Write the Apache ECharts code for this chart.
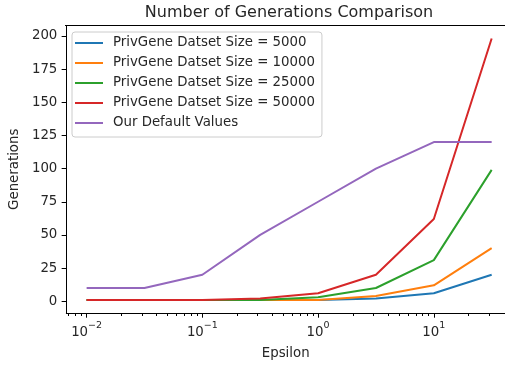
<!DOCTYPE html>
<html>
<head>
<meta charset="utf-8">
<script src="https://cdn.jsdelivr.net/npm/echarts@6/dist/echarts.min.js"></script>
<style>
html,body{margin:0;padding:0;background:#fff;}
#chart{width:505px;height:365px;}
</style>
</head>
<body>
<div id="chart"></div>
<script>
const epsilon = [0.01, 0.0316, 0.1, 0.316, 1, 3.16, 10, 31.6];
const size5000 = [1, 1, 1, 1, 1, 2, 6, 20];
const size10000 = [1, 1, 1, 1, 1, 4, 12, 40];
const size25000 = [1, 1, 1, 1, 3, 10, 31, 99];
const size50000 = [1, 1, 1, 2, 6, 20, 62, 198];
const defaults = [10, 10, 20, 50, 75, 100, 120, 120];
const seriesNames = ['PrivGene Datset Size = 5000', 'PrivGene Datset Size = 10000', 'PrivGene Datset Size = 25000', 'PrivGene Datset Size = 50000', 'Our Default Values'];
const colors = ['#1f77b4', '#ff7f0e', '#2ca02c', '#d62728', '#9467bd'];
const xMajorTicks = [0.01, 0.1, 1, 10];
const xMajorLabels = ['{b|10}{s|−2}', '{b|10}{s|−1}', '{b|10}{s|0}', '{b|10}{s|1}'];
const xMinorTicks = [0.007, 0.008, 0.009, 0.02, 0.03, 0.04, 0.05, 0.06, 0.07, 0.08, 0.09, 0.2, 0.3, 0.4, 0.5, 0.6, 0.7, 0.8, 0.9, 2, 3, 4, 5, 6, 7, 8, 9, 20, 30];
const yTicks = [0, 25, 50, 75, 100, 125, 150, 175, 200];

const allSeries = [size5000, size10000, size25000, size50000, defaults];
const textColor = '#262626';
const fs = 13.33;
const gridTop = 25.5;
const xMin = 0.00668, xMax = 41.2;

const chart = echarts.init(document.getElementById('chart'), null, {renderer: 'canvas'});
const option = {
  animation: false,
  backgroundColor: '#fff',
  title: {
    text: 'Number of Generations Comparison',
    left: 284, textAlign: 'center', top: 0,
    textStyle: {fontFamily: 'DejaVu Sans', fontSize: 16, fontWeight: 'normal', color: textColor}
  },
  grid: {left: 65, right: 0, top: gridTop, bottom: 48.4, containLabel: false},
  legend: {
    left: 72, top: 32, orient: 'vertical',
    data: seriesNames,
    icon: 'rect', itemWidth: 28, itemHeight: 2, itemGap: 6,
    padding: [4, 7, 7, 3],
    backgroundColor: 'rgba(255,255,255,0.8)', borderColor: '#cccccc', borderWidth: 1, borderRadius: 3,
    textStyle: {fontFamily: 'DejaVu Sans', fontSize: fs, color: textColor, lineHeight: 14, padding: [0, 0, 0, 5]}
  },
  xAxis: [{
    type: 'log', logBase: 10, min: xMin, max: xMax,
    name: 'Epsilon', nameLocation: 'middle', nameGap: 34,
    nameTextStyle: {fontFamily: 'DejaVu Sans', fontSize: fs, color: textColor},
    axisLine: {show: true, onZero: false, lineStyle: {color: '#000', width: 1}},
    axisTick: {show: true, inside: false, length: 4.7, customValues: xMajorTicks, lineStyle: {color: '#000', width: 1}},
    axisLabel: {
      show: true, margin: 8, customValues: xMajorTicks,
      formatter: function (v) { const i = xMajorTicks.findIndex(t => Math.abs(Math.log10(t) - Math.log10(v)) < 1e-6); return i >= 0 ? xMajorLabels[i] : ''; },
      rich: {
        b: {fontFamily: 'DejaVu Sans', fontSize: fs, color: textColor, lineHeight: 18, verticalAlign: 'bottom'},
        s: {fontFamily: 'DejaVu Sans', fontSize: 9.5, color: textColor, lineHeight: 18, verticalAlign: 'top'}
      }
    },
    splitLine: {show: false}
  }, {
    type: 'log', logBase: 10, min: xMin, max: xMax, position: 'bottom', offset: 0,
    axisLine: {show: true, onZero: false, lineStyle: {color: 'rgba(0,0,0,0)', width: 1}},
    axisTick: {show: true, inside: false, length: 3, customValues: xMinorTicks, lineStyle: {color: '#000', width: 1}},
    axisLabel: {show: false},
    splitLine: {show: false}
  }],
  yAxis: {
    type: 'value', min: -8.85, max: 207.85,
    name: 'Generations', nameLocation: 'middle', nameGap: 44, nameRotate: 90,
    nameTextStyle: {fontFamily: 'DejaVu Sans', fontSize: fs, color: textColor},
    axisLine: {show: true, onZero: false, lineStyle: {color: '#000', width: 1}},
    axisTick: {show: true, inside: false, length: 4.7, customValues: yTicks, lineStyle: {color: '#000', width: 1}},
    axisLabel: {show: true, margin: 9, customValues: yTicks, fontFamily: 'DejaVu Sans', fontSize: fs, color: textColor},
    splitLine: {show: false}
  },
  series: allSeries.map((vals, i) => ({
    name: seriesNames[i], type: 'line', xAxisIndex: 0,
    data: epsilon.map((x, j) => [x, vals[j]]),
    showSymbol: false, symbol: 'none',
    lineStyle: {color: colors[i], width: 2},
    itemStyle: {color: colors[i]},
    clip: true
  })),
  graphic: [
    {type: 'line', shape: {x1: 65, y1: gridTop, x2: 505, y2: gridTop}, style: {stroke: '#000', lineWidth: 1}, z: 10}
  ]
};
chart.setOption(option);
</script>
</body>
</html>
